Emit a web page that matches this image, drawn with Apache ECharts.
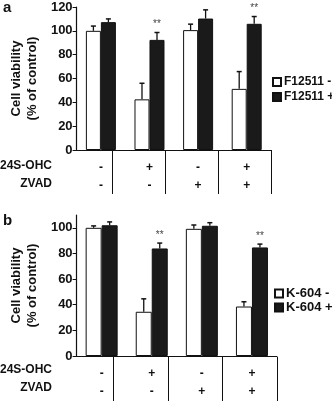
<!DOCTYPE html>
<html>
<head>
<meta charset="utf-8">
<script src="https://cdn.jsdelivr.net/npm/echarts@6/dist/echarts.min.js"></script>
<style>
  html, body { margin: 0; padding: 0; background: #fff; }
  #chart { width: 332px; height: 401px; }
</style>
</head>
<body>
<div id="chart"></div>
<script>
// treatment table under each panel
const categories = ["g1", "g2", "g3", "g4"];
const ohcRow = ["-", "+", "-", "+"];
const zvadRow = ["-", "-", "+", "+"];
const sigMarks = ["", "**", "", "**"];

// panel a: F12511
const aMinus = [100, 42.5, 100.6, 51.3];
const aMinusErr = [4, 13.5, 5, 14.5];
const aPlus = [107.3, 92.4, 110.3, 105.9];
const aPlusErr = [2.7, 6.2, 7.3, 6.1];

// panel b: K-604
const bMinus = [100, 34.5, 99.2, 38.6];
const bMinusErr = [1.5, 10.1, 3, 3.7];
const bPlus = [102, 83.9, 101.6, 84.7];
const bPlusErr = [2.6, 4.2, 2.4, 2.6];

const yTicksA = [0, 20, 40, 60, 80, 100, 120];
const yTicksB = [0, 20, 40, 60, 80, 100];

const FONT = "Liberation Sans, Arial, sans-serif";
const chart = echarts.init(document.getElementById("chart"), null, { renderer: "canvas" });

// error bar (upward only) drawn at the centre of one of the two bars
function errorSeries(name, vals, errs, grid, dx, withSig) {
  return {
    type: "custom",
    name: name + " err",
    xAxisIndex: grid,
    yAxisIndex: grid,
    z: 3,
    data: vals.map((v, i) => [i, v, errs[i]]),
    renderItem: (params, api) => {
      const i = api.value(0), v = api.value(1), e = api.value(2);
      const p0 = api.coord([i, v]);
      const p1 = api.coord([i, v + e]);
      const x = p0[0] + dx;
      const children = [
        { type: "line", shape: { x1: x, y1: p0[1], x2: x, y2: p1[1] }, style: { stroke: "#111", lineWidth: 1.3 } },
        { type: "line", shape: { x1: x - 2.5, y1: p1[1], x2: x + 2.5, y2: p1[1] }, style: { stroke: "#111", lineWidth: 1.5 } },
      ];
      if (withSig && sigMarks[params.dataIndex]) {
        children.push({
          type: "text",
          style: { text: sigMarks[params.dataIndex], x: x, y: p1[1] - 3, align: "center", verticalAlign: "bottom", font: "10px " + FONT, fill: "#444" },
        });
      }
      return { type: "group", children };
    },
  };
}

function xAxisFor(grid) {
  return {
    type: "category",
    gridIndex: grid,
    data: categories,
    axisLine: { lineStyle: { color: "#111", width: 1.2 } },
    axisTick: { show: false },
    axisLabel: {
      margin: 9,
      lineHeight: 18,
      fontFamily: FONT,
      fontWeight: "bold",
      fontSize: 12,
      color: "#111",
      interval: 0,
      formatter: (v, i) => ohcRow[i] + "\n" + zvadRow[i],
    },
  };
}

// hidden axis of the table grid: its split lines are the column dividers
function tableXAxis(grid) {
  return {
    type: "category",
    gridIndex: grid,
    data: categories,
    axisLine: { show: false },
    axisTick: { show: false },
    axisLabel: { show: false },
    splitLine: { show: true, interval: 0, showMinLine: false, showMaxLine: true, lineStyle: { color: "#111", width: 1 } },
  };
}

function tableYAxis(grid) {
  return { type: "value", gridIndex: grid, show: false, splitLine: { show: false } };
}

function yAxisFor(grid, max, ticks) {
  return {
    type: "value",
    gridIndex: grid,
    min: 0,
    max: max,
    interval: 20,
    name: "Cell viability\n(% of control)",
    nameLocation: "middle",
    nameRotate: 90,
    nameGap: 31,
    nameTextStyle: { fontFamily: FONT, fontWeight: "bold", fontSize: 13, lineHeight: 16, color: "#111" },
    axisLine: { show: true, lineStyle: { color: "#111", width: 1.2 } },
    axisTick: { show: true, length: 4, lineStyle: { color: "#111" }, customValues: ticks },
    axisLabel: { margin: 4, fontFamily: FONT, fontWeight: "bold", fontSize: 13, color: "#111", customValues: ticks },
    splitLine: { show: false },
  };
}

function barSeries(name, vals, grid, color, width) {
  return {
    type: "bar",
    name: name,
    xAxisIndex: grid,
    yAxisIndex: grid,
    barWidth: width,
    barGap: "0%",
    data: vals,
    itemStyle: { color: color, borderColor: "#111", borderWidth: 1 },
  };
}

function rowLabel(text, top) {
  return {
    type: "text",
    right: 280,
    top: top,
    style: { text: text, font: "bold 12px " + FONT, fill: "#111" },
  };
}

const legendText = { fontFamily: FONT, fontWeight: "bold", fontSize: 12, color: "#111", padding: [0, 0, 0, -2] };

chart.setOption({
  animation: false,
  grid: [
    { left: 59, top: 7, width: 212, height: 143 },
    { left: 59, top: 215, width: 218, height: 142 },
    { left: 59, top: 150, width: 212, height: 44 },
    { left: 59, top: 357, width: 218, height: 44 },
  ],
  xAxis: [xAxisFor(0), xAxisFor(1), tableXAxis(2), tableXAxis(3)],
  yAxis: [yAxisFor(0, 120, yTicksA), yAxisFor(1, 110, yTicksB), tableYAxis(2), tableYAxis(3)],
  legend: [
    {
      data: ["F12511 -", "F12511 +"],
      orient: "vertical",
      left: 267,
      top: 71,
      icon: "rect",
      itemWidth: 8,
      itemHeight: 8,
      itemGap: 3,
      textStyle: legendText,
    },
    {
      data: ["K-604 -", "K-604 +"],
      orient: "vertical",
      left: 269,
      top: 282,
      icon: "rect",
      itemWidth: 8,
      itemHeight: 8,
      itemGap: 1,
      textStyle: Object.assign({}, legendText, { fontSize: 13 }),
    },
  ],
  graphic: [
    { type: "text", left: 3, top: 0, style: { text: "a", font: "bold 15px " + FONT, fill: "#111" } },
    { type: "text", left: 3, top: 213, style: { text: "b", font: "bold 15px " + FONT, fill: "#111" } },
    rowLabel("24S-OHC", 160),
    rowLabel("ZVAD", 178),
    rowLabel("24S-OHC", 364),
    rowLabel("ZVAD", 382),
  ],
  series: [
    barSeries("F12511 -", aMinus, 0, "#fff", 15),
    barSeries("F12511 +", aPlus, 0, "#1a1a1a", 15),
    errorSeries("F12511 -", aMinus, aMinusErr, 0, -7.5, false),
    errorSeries("F12511 +", aPlus, aPlusErr, 0, 7.5, true),
    barSeries("K-604 -", bMinus, 1, "#fff", 16),
    barSeries("K-604 +", bPlus, 1, "#1a1a1a", 16),
    errorSeries("K-604 -", bMinus, bMinusErr, 1, -8, false),
    errorSeries("K-604 +", bPlus, bPlusErr, 1, 8, true),
  ],
});
</script>
</body>
</html>
